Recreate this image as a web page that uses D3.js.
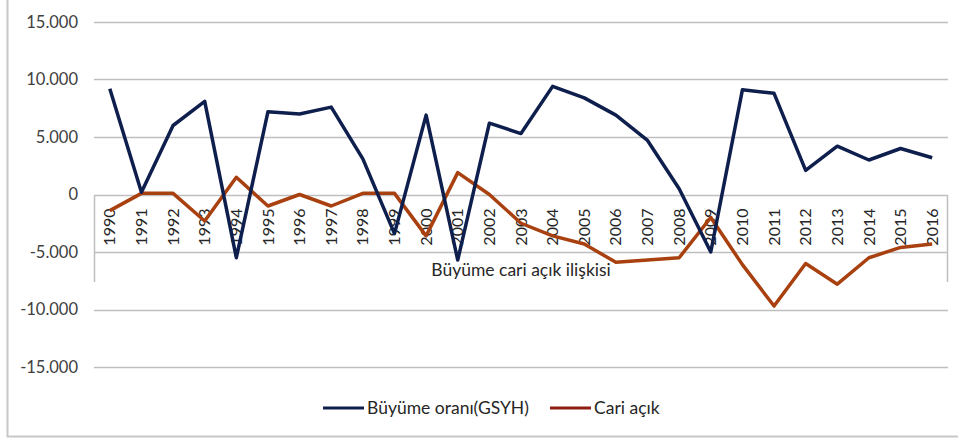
<!DOCTYPE html>
<html>
  <head>
    <meta charset="utf-8">
    <script src="https://d3js.org/d3.v7.min.js"></script>
    <style>
      body { margin: 0; background: #fff; }
      text { font-family: Lato, "Open Sans", sans-serif; }
    </style>
  </head>
  <body>
    <script type="text/javascript">
      "use strict";

      // Data
      var years = ["1990", "1991", "1992", "1993", "1994", "1995", "1996", "1997", "1998", "1999",
                   "2000", "2001", "2002", "2003", "2004", "2005", "2006", "2007", "2008", "2009",
                   "2010", "2011", "2012", "2013", "2014", "2015", "2016"];
      var growth = [9.2, 0.2, 6.0, 8.1, -5.5, 7.2, 7.0, 7.6, 3.1, -3.4,
                    6.9, -5.7, 6.2, 5.3, 9.4, 8.4, 6.9, 4.7, 0.5, -5.0,
                    9.1, 8.8, 2.1, 4.2, 3.0, 4.0, 3.2];
      var currentAccount = [-1.4, 0.1, 0.1, -2.3, 1.5, -1.0, 0.0, -1.0, 0.1, 0.1,
                            -3.6, 1.9, 0.0, -2.5, -3.6, -4.3, -5.9, -5.7, -5.5, -2.0,
                            -6.1, -9.7, -6.0, -7.8, -5.5, -4.6, -4.3];
      var yTicks = [15, 10, 5, 0, -5, -10, -15];
      var yTickLabels = ["15.000", "10.000", "5.000", "0", "-5.000", "-10.000", "-15.000"];
      var seriesNames = ["Büyüme oranı(GSYH)", "Cari açık"];
      var chartTitle = "Büyüme cari açık ilişkisi";

      var width = 958, height = 441;
      var plotLeft = 94, plotRight = 948, plotTop = 22, plotBottom = 367;

      var svg = d3.select("body").append("svg")
          .attr("width", width)
          .attr("height", height);

      // outer frame
      svg.append("path")
          .attr("d", "M7.5,0 V436.5 H958")
          .attr("fill", "none")
          .attr("stroke", "#c8c8c8")
          .attr("stroke-width", 2);

      var x = d3.scaleBand().domain(years).range([plotLeft, plotRight]);
      var y = d3.scaleLinear().domain([-15, 15]).range([plotBottom, plotTop]);

      // gridlines
      svg.selectAll("line.grid")
          .data(yTicks)
          .enter().append("line")
          .attr("class", "grid")
          .attr("x1", plotLeft).attr("x2", plotRight)
          .attr("y1", function (d) { return Math.round(y(d)) + 0.5; })
          .attr("y2", function (d) { return Math.round(y(d)) + 0.5; })
          .attr("stroke", "#bfbfbf")
          .attr("stroke-width", 1.5);

      // y labels
      svg.selectAll("text.ylab")
          .data(yTicks)
          .enter().append("text")
          .attr("class", "ylab")
          .attr("x", 78)
          .attr("y", function (d) { return y(d); })
          .attr("dy", "0.35em")
          .attr("text-anchor", "end")
          .style("font-size", "16.5px")
          .style("fill", "#404040")
          .text(function (d, i) { return yTickLabels[i]; });

      // category axis box at zero
      var y0 = Math.round(y(0)) + 0.5;
      svg.append("path")
          .attr("d", "M" + (plotLeft + 0.5) + "," + y0 + " V282 M" + (plotRight - 0.5) + "," + y0 + " V282")
          .attr("fill", "none")
          .attr("stroke", "#bfbfbf")
          .attr("stroke-width", 1.5);

      // x labels, rotated
      svg.selectAll("text.xlab")
          .data(years)
          .enter().append("text")
          .attr("class", "xlab")
          .attr("transform", function (d) {
            return "translate(" + (x(d) + x.bandwidth() / 2) + "," + (y0 + 13) + ") rotate(-90)";
          })
          .attr("dy", "0.35em")
          .attr("text-anchor", "end")
          .style("font-size", "16px")
          .style("fill", "#262626")
          .text(function (d) { return d; });

      // title sitting under the axis
      svg.append("text")
          .attr("x", 521)
          .attr("y", 276)
          .attr("text-anchor", "middle")
          .style("font-size", "17.5px")
          .style("fill", "#262626")
          .text(chartTitle);

      var line = d3.line()
          .x(function (d, i) { return x(years[i]) + x.bandwidth() / 2; })
          .y(function (d) { return y(d); });

      svg.append("path")
          .datum(currentAccount)
          .attr("d", line)
          .attr("fill", "none")
          .attr("stroke", "#a8400f")
          .attr("stroke-width", 3.5)
          .attr("stroke-linejoin", "round");

      svg.append("path")
          .datum(growth)
          .attr("d", line)
          .attr("fill", "none")
          .attr("stroke", "#0f1f4d")
          .attr("stroke-width", 3.5)
          .attr("stroke-linejoin", "round");

      // legend
      var legend = [
        { name: seriesNames[0], color: "#0f1f4d", x: 323 },
        { name: seriesNames[1], color: "#8f1d12", x: 550 }
      ];
      var lg = svg.selectAll("g.legend")
          .data(legend)
          .enter().append("g")
          .attr("class", "legend")
          .attr("transform", function (d) { return "translate(" + d.x + ",408)"; });
      lg.append("line")
          .attr("x1", 0).attr("x2", 41)
          .attr("stroke", function (d) { return d.color; })
          .attr("stroke-width", 3);
      lg.append("text")
          .attr("x", 44)
          .attr("dy", "0.35em")
          .style("font-size", "17.5px")
          .style("fill", "#262626")
          .text(function (d) { return d.name; });
    </script>
  </body>
</html>
